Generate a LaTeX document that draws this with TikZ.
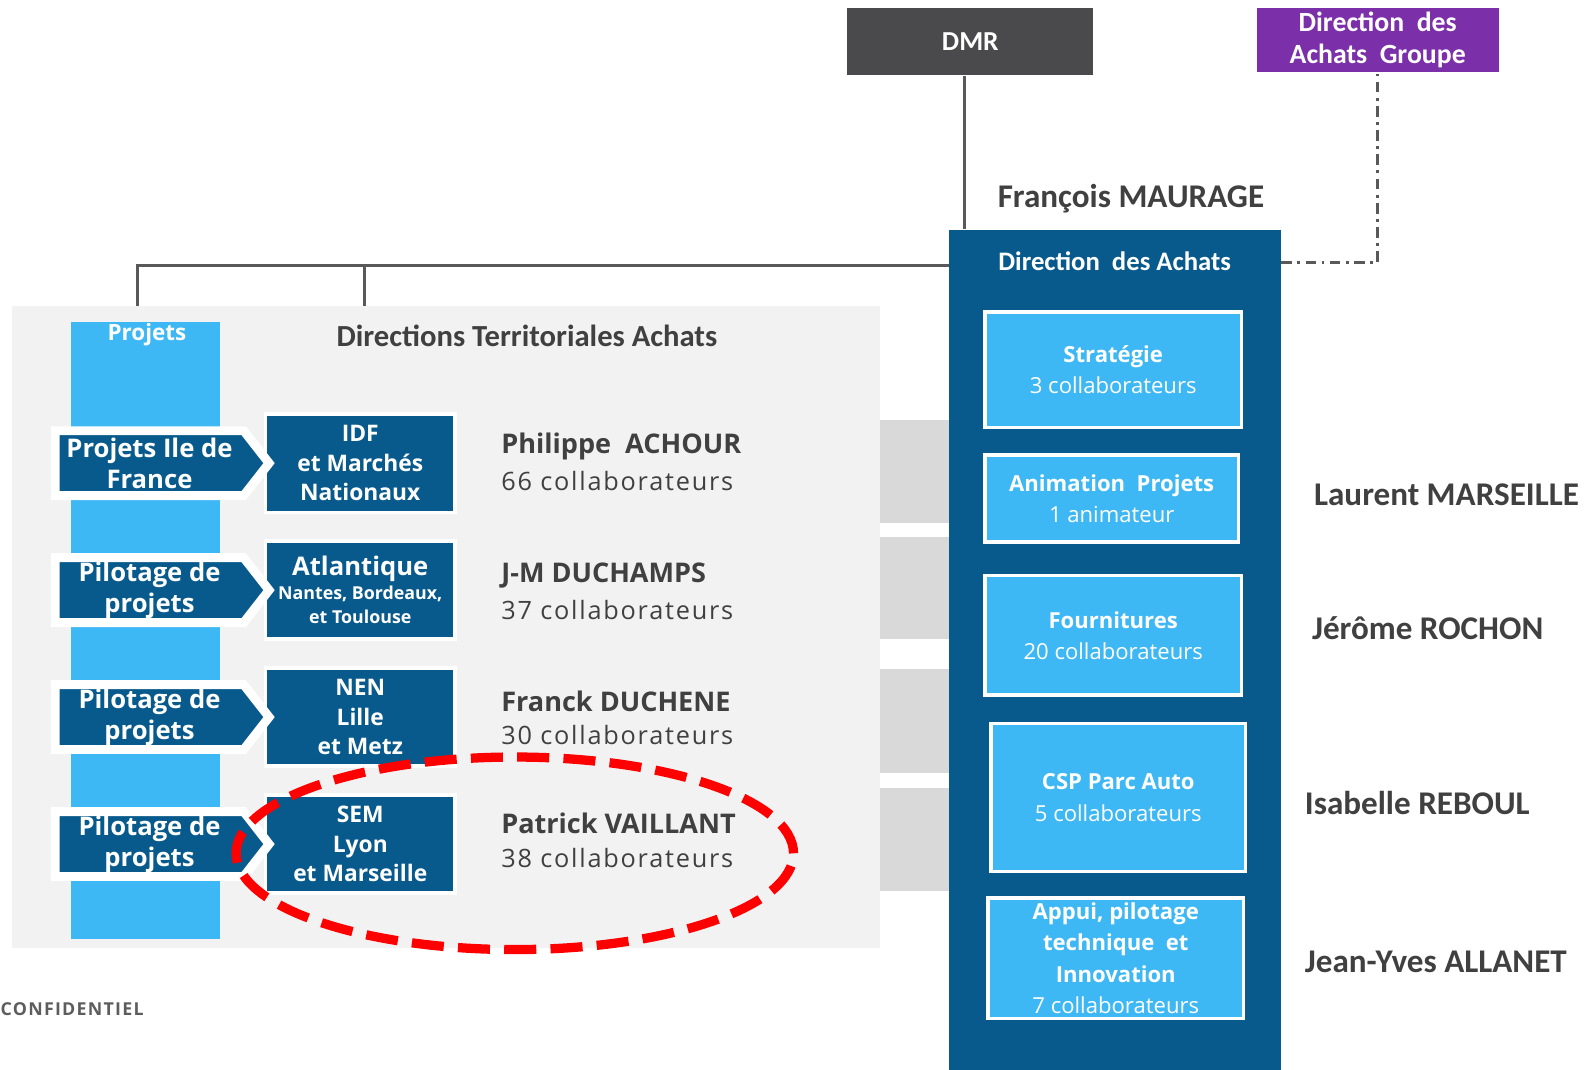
\documentclass[tikz,border=0pt]{standalone}
\usepackage{fontspec}
\setmainfont{Open Sans}
\newfontfamily\calfont{Carlito}
\newfontfamily\spacedfont[LetterSpace=7]{Open Sans}
\usepackage{tikz}
\usetikzlibrary{positioning,calc,shapes.symbols}
\definecolor{DABlue}{RGB}{8,90,140}
\definecolor{DALight}{RGB}{62,184,245}
\definecolor{DAPanel}{RGB}{242,242,242}
\definecolor{DABar}{RGB}{217,217,217}
\definecolor{DMRGrey}{RGB}{74,74,76}
\definecolor{DAPurple}{RGB}{123,47,168}
\definecolor{DAText}{RGB}{64,64,64}
\definecolor{DALine}{RGB}{89,89,89}

\begin{document}
\begin{tikzpicture}[
		chev/.style={signal, signal to=east, signal pointer angle=104, fill=DABlue, draw=white, line width=2.5pt, text=white, font=\bfseries\fontsize{7.2}{8.8}\selectfont, align=center, minimum width=2.11cm, minimum height=0.64cm, inner sep=0pt},
		reg/.style={fill=DABlue, draw=white, line width=1pt, text=white, font=\bfseries\fontsize{6.4}{8.3}\selectfont, align=center, minimum width=1.87cm, minimum height=0.97cm, inner sep=0pt},
		sbox/.style={fill=DALight, draw=white, line width=1pt, text=white, font=\fontsize{6.2}{8.8}\selectfont, align=center, inner sep=0pt},
		rname/.style={anchor=west, inner sep=0pt, text=DAText, font=\calfont\bfseries\fontsize{9.3}{11}\selectfont},
		conn/.style={DALine, line width=0.8pt},
		]
		\useasboundingbox (0,0) rectangle (15.68,-10.55);
		
		% ===== fonds =====
		\fill[DAPanel] (0.12,-3.02) rectangle (8.68,-9.35);
		\foreach \ya/\yb in {4.14/5.16, 5.30/6.31, 6.60/7.63, 7.78/8.79}{
			\fill[DABar] (8.68,-\ya) rectangle (9.37,-\yb);
		}
		\fill[DALight] (0.70,-3.18) rectangle (2.17,-9.27);
		\node[text=white, font=\bfseries\fontsize{6.3}{7}\selectfont] (proj) at (1.45,-3.30) {Projets};
		\node[text=DAText, font=\calfont\bfseries\fontsize{8.6}{10}\selectfont] (dta) at (5.20,-3.31) {Directions Territoriales Achats};
		
		% ===== directions territoriales =====
		\foreach \chv/\rg/\nm/\nb/\dy [count=\i] in {
			{Projets Ile de\\France}/{IDF\\et Marchés\\Nationaux}/{Philippe\ \ ACHOUR}/66/0,
			{Pilotage de\\projets}/{{\fontsize{7.2}{8}\selectfont Atlantique}\\[-1.7pt]{\fontsize{5}{7}\selectfont Nantes, Bordeaux,}\\[-1.4pt]{\fontsize{5}{6.8}\selectfont et Toulouse}}/{J-M DUCHAMPS}/37/-0.02,
			{Pilotage de\\projets}/{NEN\\Lille\\et Metz}/{Franck DUCHENE}/30/0,
			{Pilotage de\\projets}/{SEM\\Lyon\\et Marseille}/{Patrick VAILLANT}/38/0.04}{
			\pgfmathsetmacro{\y}{-4.57-(\i-1)*1.253}
			\node[reg] (r\i) at (3.555,\y) {\rg};
			\node[chev] (c\i) at (1.475,\y) {\chv};
			\node[anchor=west, inner sep=0pt, text=DAText, font=\bfseries\fontsize{7.6}{9}\selectfont] (n\i) at (4.94,\y+0.16+\dy) {\nm};
			\node[anchor=west, inner sep=0pt, text=DAText, font=\spacedfont\fontsize{7.1}{9}\selectfont] (k\i) at (4.94,\y-0.18+\dy) {\nb\ collaborateurs};
		}
		
		% ===== direction des achats =====
		\node[fill=DABlue, minimum width=3.27cm, minimum height=8.29cm, anchor=north west, inner sep=0pt] (achats) at (9.36,-2.26) {};
		\node[text=white, font=\calfont\bfseries\fontsize{7.5}{9}\selectfont] (achatsT) at (11.00,-2.58) {Direction\ \ des Achats};
		\node[text=DAText, font=\calfont\bfseries\fontsize{9.3}{11}\selectfont] (maurage) at (11.16,-1.96) {François MAURAGE};
		
		\node[sbox, minimum width=2.53cm, minimum height=1.14cm] (strat) at (10.985,-3.65) {\textbf{Stratégie}\\3 collaborateurs};
		\node[sbox, minimum width=2.50cm, minimum height=0.86cm] (anim) at (10.97,-4.92) {\textbf{Animation\ \ Projets}\\1 animateur};
		\node[sbox, minimum width=2.53cm, minimum height=1.18cm] (four) at (10.985,-6.27) {\textbf{Fournitures}\\20 collaborateurs};
		\node[sbox, minimum width=2.51cm, minimum height=1.46cm] (csp) at (11.035,-7.87) {\textbf{CSP\ Parc Auto}\\5 collaborateurs};
		\node[sbox, minimum width=2.52cm, minimum height=1.19cm] (appui) at (11.01,-9.455) {\textbf{Appui,\ pilotage}\\\textbf{technique\ \ et}\\\textbf{Innovation}\\7 collaborateurs};
		
		\node[rname] (lm) at (12.96,-4.88) {Laurent MARSEILLE};
		\node[rname] (jr) at (12.94,-6.20) {Jérôme ROCHON};
		\node[rname] (ir) at (12.87,-7.92) {Isabelle REBOUL};
		\node[rname] (ja) at (12.87,-9.49) {Jean-Yves ALLANET};
		
		% ===== haut =====
		\node[fill=DMRGrey, minimum width=2.43cm, minimum height=0.66cm, inner sep=0pt, text=white, font=\calfont\bfseries\fontsize{7.7}{9}\selectfont] (dmr) at (9.575,-0.41) {DMR};
		\node[fill=DAPurple, minimum width=2.39cm, minimum height=0.63cm, inner sep=0pt, align=center, text=white, font=\calfont\bfseries\fontsize{7.8}{8.8}\selectfont] (dag) at (13.595,-0.395) {Direction\ \ des\\Achats\ \ Groupe};
		
		% ===== liaisons =====
		\coordinate (hl) at ($(achats.north west)+(0,-0.36)$);
		\coordinate (dl) at ($(achats.north east)+(0,-0.33)$);
		\coordinate (t1) at (1.36,-3.02);
		\coordinate (t2) at (3.60,-3.02);
		\draw[conn] ([xshift=-0.06cm]dmr.south) -- ([xshift=-0.06cm]dmr.south |- achats.north);
		\draw[conn] (hl) -| (t1);
		\draw[conn] (t2 |- hl) -- (t2);
		\draw[DALine, line width=0.8pt, dash pattern=on 3pt off 1.5pt on 0.8pt off 1.5pt] (dl) -| (dag.south);
		
		\node[anchor=west, inner sep=0pt, text=DAText!85, font=\spacedfont\bfseries\fontsize{5}{6}\selectfont] (conf) at (0,-9.96) {CONFIDENTIEL};
		
		% ===== ellipse rouge =====
		\draw[red, line width=2.6pt, dash pattern=on 9pt off 4pt] (5.08,-8.42) ellipse (2.75 and 0.95);
		
	\end{tikzpicture}
\end{document}
